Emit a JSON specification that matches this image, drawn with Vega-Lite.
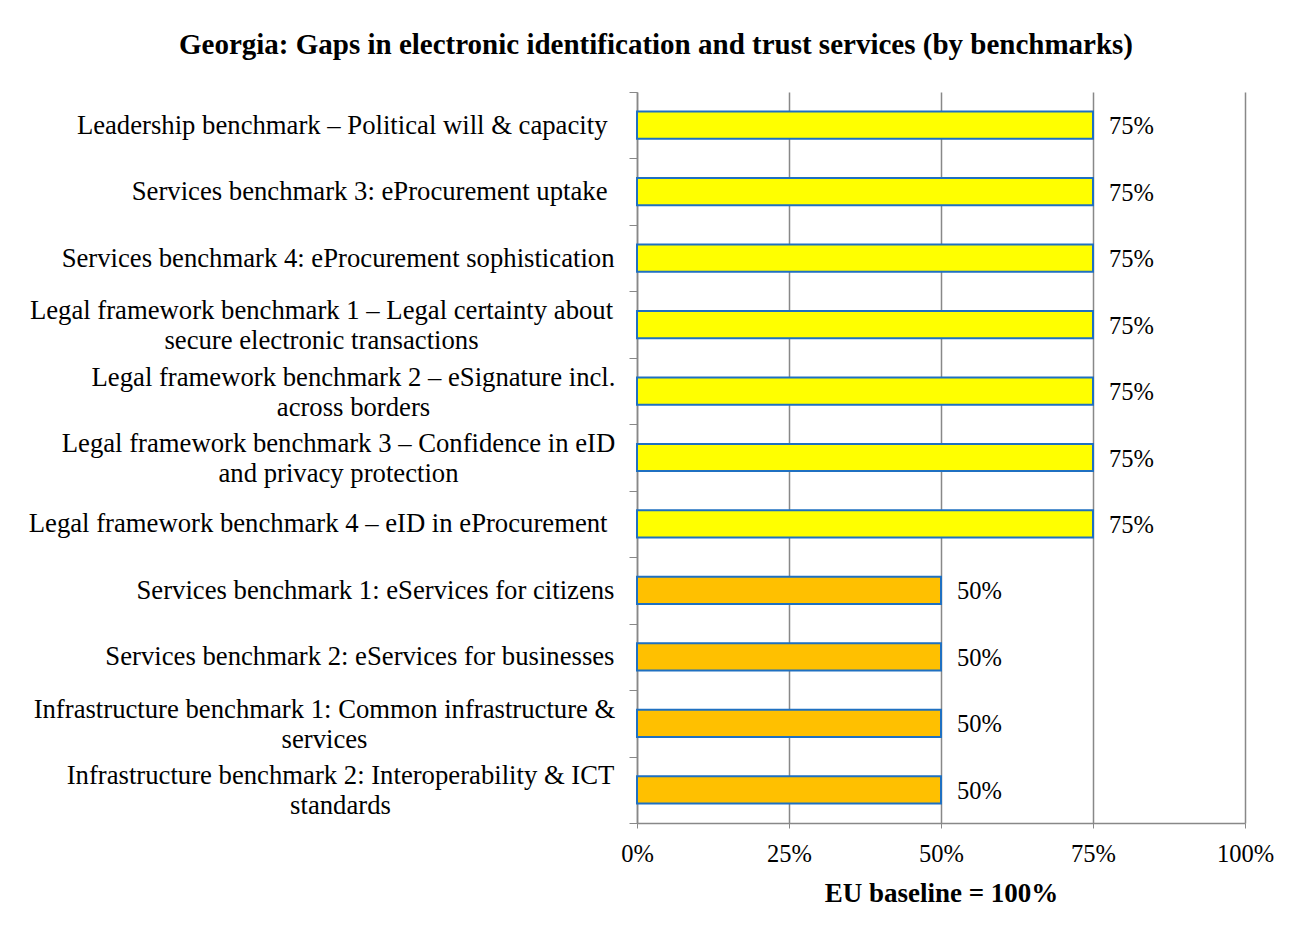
{
  "$schema": "https://vega.github.io/schema/vega-lite/v6.json",
  "width": 608,
  "height": 731,
  "autosize": {"type": "none"},
  "padding": {"left": 637, "top": 92, "right": 60, "bottom": 114},
  "background": "white",
  "title": {
    "text": "Georgia: Gaps in electronic identification and trust services (by benchmarks)",
    "font": "Liberation Serif",
    "fontSize": 29,
    "fontWeight": "bold",
    "color": "#000000",
    "anchor": "middle",
    "dx": -285,
    "offset": 19
  },
  "config": {
    "view": {"stroke": null},
    "font": "Liberation Serif"
  },
  "data": {
    "values": [
      {"benchmark": "Leadership benchmark – Political will & capacity", "score": 0.75, "level": "high"},
      {"benchmark": "Services benchmark 3: eProcurement uptake", "score": 0.75, "level": "high"},
      {"benchmark": "Services benchmark 4: eProcurement sophistication", "score": 0.75, "level": "high"},
      {"benchmark": "Legal framework benchmark 1 – Legal certainty about|secure electronic transactions", "score": 0.75, "level": "high"},
      {"benchmark": "Legal framework benchmark 2 – eSignature incl.|across borders", "score": 0.75, "level": "high"},
      {"benchmark": "Legal framework benchmark 3 – Confidence in eID|and privacy protection", "score": 0.75, "level": "high"},
      {"benchmark": "Legal framework benchmark 4 – eID in eProcurement", "score": 0.75, "level": "high"},
      {"benchmark": "Services benchmark 1: eServices for citizens", "score": 0.5, "level": "mid"},
      {"benchmark": "Services benchmark 2: eServices for businesses", "score": 0.5, "level": "mid"},
      {"benchmark": "Infrastructure benchmark 1: Common infrastructure &|services", "score": 0.5, "level": "mid"},
      {"benchmark": "Infrastructure benchmark 2: Interoperability & ICT|standards", "score": 0.5, "level": "mid"}
    ]
  },
  "encoding": {
    "y": {
      "field": "benchmark",
      "type": "nominal",
      "sort": null,
      "scale": {"paddingInner": 0, "paddingOuter": 0},
      "axis": {
        "title": null,
        "labelExpr": "isValid(datum.value) ? split(datum.value, '|') : ''",
        "labelFont": "Liberation Serif",
        "labelFontSize": 26.7,
        "labelColor": "#000000",
        "labelLimit": 700,
        "labelLineHeight": 30,
        "labelAlign": {
          "condition": {"test": "isValid(datum.value) && indexof(datum.value, '|') >= 0", "value": "center"},
          "value": "right"
        },
        "labelOffset": {
          "condition": {"test": "isValid(datum.value) && indexof(datum.value, '|') >= 0", "value": -14},
          "value": 0
        },
        "labelPadding": {
          "expr": "!isValid(datum.value) ? 22 : indexof(datum.value, 'benchmark 1 – Legal') >= 0 ? 308 : indexof(datum.value, 'benchmark 2 – eSig') >= 0 ? 276 : indexof(datum.value, 'benchmark 3 – Conf') >= 0 ? 291 : indexof(datum.value, 'benchmark 1: Common') >= 0 ? 305 : indexof(datum.value, 'benchmark 2: Inter') >= 0 ? 289 : (indexof(datum.value, 'sophistication') >= 0 || indexof(datum.value, 'citizens') >= 0 || indexof(datum.value, 'businesses') >= 0) ? 15 : 22"
        },
        "tickBand": "extent",
        "tickSize": 8,
        "tickColor": "#888888",
        "domainColor": "#888888",
        "domainWidth": 1.5,
        "grid": false
      }
    },
    "x": {
      "field": "score",
      "type": "quantitative",
      "scale": {"domain": [0, 1], "nice": false},
      "axis": {
        "title": "EU baseline = 100%",
        "titleFont": "Liberation Serif",
        "titleFontSize": 27,
        "titleFontWeight": "bold",
        "titleColor": "#000000",
        "titlePadding": 15,
        "format": ".0%",
        "values": [0, 0.25, 0.5, 0.75, 1],
        "labelFont": "Liberation Serif",
        "labelFontSize": 24.5,
        "labelColor": "#000000",
        "labelPadding": 14,
        "labelFlush": false,
        "tickSize": 5,
        "tickColor": "#888888",
        "domainColor": "#888888",
        "domainWidth": 1.5,
        "grid": true,
        "gridColor": "#888888",
        "gridWidth": 1.5
      }
    }
  },
  "layer": [
    {
      "mark": {"type": "bar", "height": {"band": 0.41}, "stroke": "#1F70C1", "strokeWidth": 2},
      "encoding": {
        "color": {
          "field": "level",
          "type": "nominal",
          "scale": {"domain": ["high", "mid"], "range": ["#FFFF00", "#FFC000"]},
          "legend": null
        }
      }
    },
    {
      "mark": {"type": "text", "align": "left", "baseline": "middle", "dx": 16, "dy": 2, "font": "Liberation Serif", "fontSize": 24.5, "color": "#000000"},
      "encoding": {
        "text": {"field": "score", "type": "quantitative", "format": ".0%"}
      }
    }
  ]
}
